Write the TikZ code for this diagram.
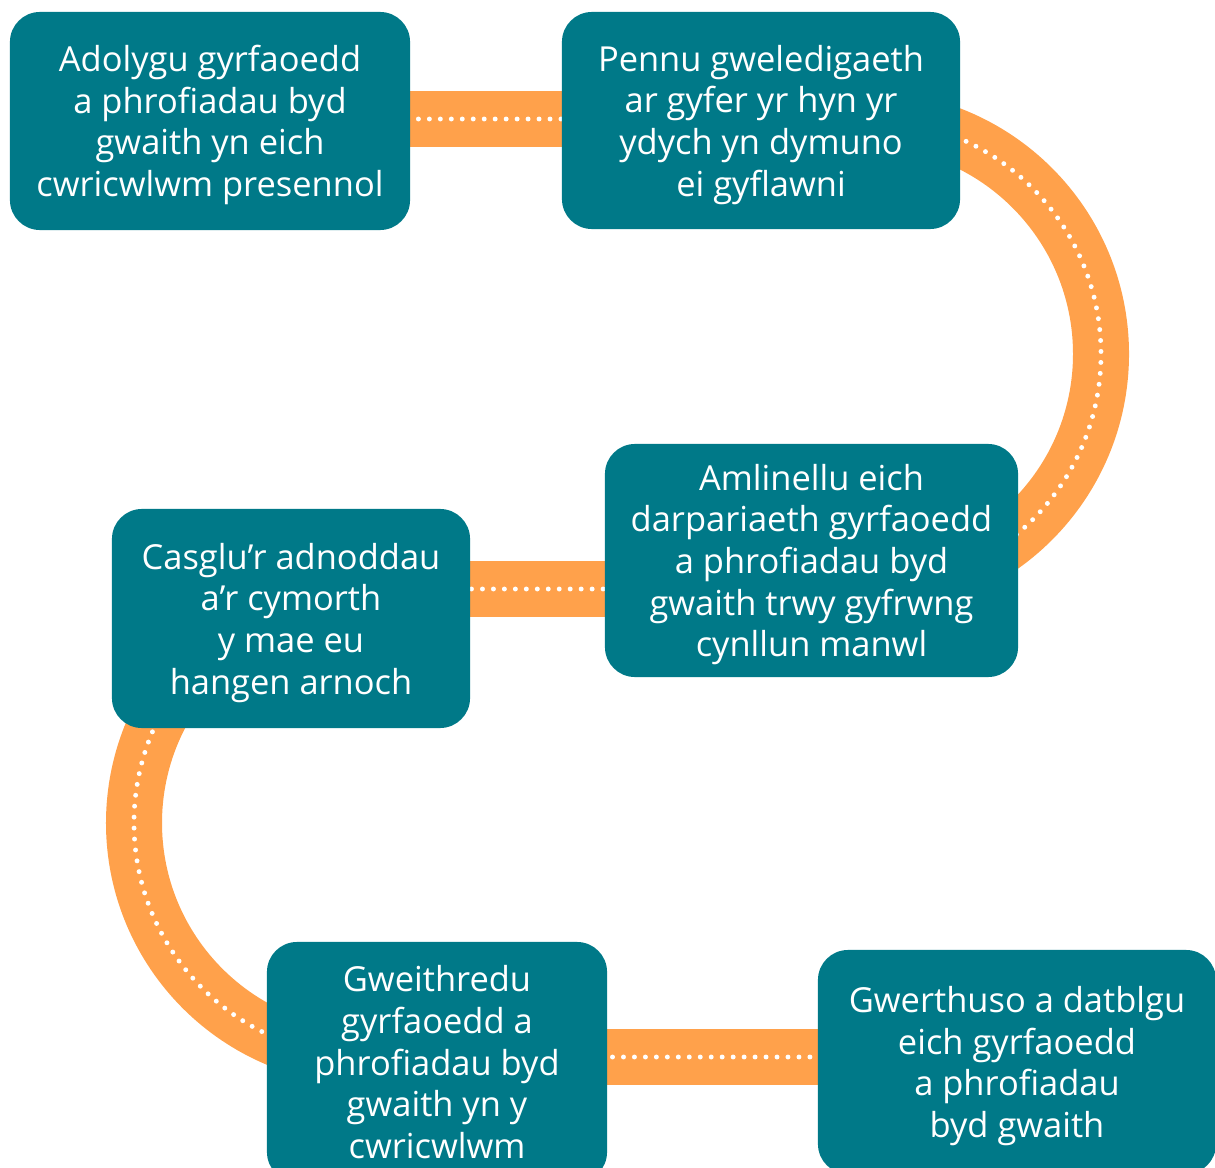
\documentclass[tikz,border=0pt]{standalone}
\usepackage{fontspec}
\setmainfont{Open Sans}
\usepackage{xcolor}
\usepackage{tikz}
\usetikzlibrary{backgrounds}

\definecolor{stageteal}{RGB}{0,121,136}
\definecolor{pathorange}{RGB}{255,161,75}

\begin{document}
\begin{tikzpicture}[x=0.025cm, y=0.025cm,
    stagebox/.style={fill=stageteal, rounded corners=0.75cm, text=white, align=center, inner sep=0pt,
        text depth=0pt, font=\fontsize{24.5pt}{29.6pt}\selectfont},
    band/.style={line width=1.4cm, pathorange,
        postaction={draw, white, line width=3.5pt, line cap=round, dash pattern=on 0pt off 7.8pt}}]
\useasboundingbox (0,0) rectangle (1215,-1168);

\node[stagebox, minimum width=10cm, minimum height=5.45cm] (stage_0) at (210,-121) {Adolygu gyrfaoedd\\a phrofiadau byd\\gwaith yn eich\\cwricwlwm presennol};
\node[stagebox, minimum width=9.95cm, minimum height=5.425cm] (stage_1) at (761,-120.5) {Pennu gweledigaeth\\ar gyfer yr hyn yr\\ydych yn dymuno\\ei gyflawni};
\node[stagebox, minimum width=10.325cm, minimum height=5.825cm] (stage_2) at (811.5,-560.5) {Amlinellu eich\\darpariaeth gyrfaoedd\\a phrofiadau byd\\gwaith trwy gyfrwng\\cynllun manwl};
\node[stagebox, minimum width=8.95cm, minimum height=5.475cm] (stage_3) at (291,-618.5) {Casglu’r adnoddau\\a’r cymorth\\y mae eu\\hangen arnoch};
\node[stagebox, minimum width=8.5cm, minimum height=6cm] (stage_4) at (437,-1062) {Gweithredu\\gyrfaoedd a\\phrofiadau byd\\gwaith yn y\\cwricwlwm};
\node[stagebox, minimum width=9.95cm, minimum height=5.6cm] (stage_5) at (1017,-1062) {Gwerthuso a datblgu\\eich gyrfaoedd\\a phrofiadau\\byd gwaith};

% the winding path runs behind the boxes
\coordinate (row_0) at (0,-119);
\coordinate (row_1) at (0,-589);
\coordinate (row_2) at (0,-1057);
\begin{scope}[on background layer]
\draw[band] (stage_0 |- row_0) -- (stage_1 |- row_0);
\draw[band] (stage_1 |- row_0) -- (866,-119) arc[start angle=90, end angle=-90, radius=235] -- (stage_2 |- row_1);
\draw[band] (stage_2 |- row_1) -- (stage_3 |- row_1);
\draw[band] (stage_3 |- row_1) -- (368,-589) arc[start angle=90, end angle=270, radius=234] -- (stage_4 |- row_2);
\draw[band] (stage_4 |- row_2) -- (stage_5 |- row_2);
\end{scope}

\end{tikzpicture}
\end{document}
